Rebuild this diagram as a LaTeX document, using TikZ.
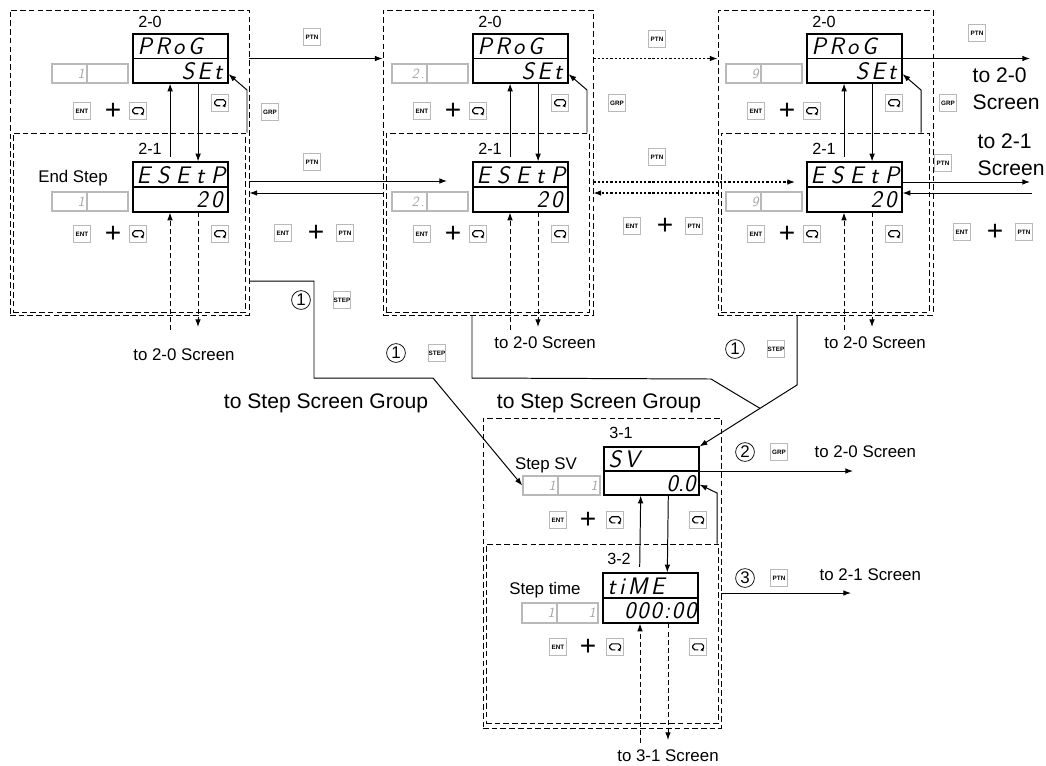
\documentclass[tikz,border=0pt]{standalone}
\usepackage{fontspec}
\setmainfont{Liberation Sans}
\newfontfamily\segfont{Latin Modern Sans}[LetterSpace=14]
\usepackage{tikz}
\usetikzlibrary{arrows.meta,positioning,calc,fit}

\begin{document}
\begin{tikzpicture}[x=0.025cm, y=-0.025cm,
  frame/.style={draw, dash pattern=on 4pt off 2.2pt, line width=0.6pt, inner sep=0pt},
  disp/.style={draw, line width=0.8pt, inner sep=0pt},
  cell/.style={draw=gray!55, line width=1pt, inner sep=0pt},
  seg/.style={font=\segfont\itshape\fontsize{17}{17}\selectfont, inner sep=1pt},
  segsm/.style={font=\segfont\itshape\fontsize{10}{10}\selectfont, text=gray!70, inner sep=2pt},
  key/.style={draw=gray!55, line width=0.9pt, minimum size=0.44cm, inner sep=0pt,
    font=\fontsize{4.5}{5}\selectfont\bfseries},
  rot/.style={key, path picture={\draw[black, line width=0.8pt, rounded corners=1.4pt,
    -{Latex[length=1.8pt,width=2.6pt]}]
    ([shift={(0.01cm,-0.07cm)}]path picture bounding box.center) -- ++(-0.14cm,0cm)
    -- ++(0cm,0.15cm) -- ++(0.27cm,0cm) -- ++(0cm,-0.15cm) -- ++(-0.07cm,0cm);}},
  plus/.style={font=\fontsize{20}{20}\selectfont, inner sep=0pt},
  num/.style={circle, draw, line width=0.5pt, minimum size=0.47cm, inner sep=0pt,
    font=\fontsize{12}{12}\selectfont},
  lab/.style={font=\fontsize{11.5}{12}\selectfont, inner sep=1pt},
  txt/.style={font=\fontsize{12}{13}\selectfont, inner sep=1pt},
  big/.style={font=\fontsize{15}{19}\selectfont, inner sep=1pt},
  arr/.style={-{Latex[length=5.5pt,width=4pt]}, line width=0.7pt},
  dline/.style={dash pattern=on 3.5pt off 2.2pt, line width=0.7pt},
  dotline/.style={dash pattern=on 1.6pt off 1.4pt, line width=0.8pt}]
  \useasboundingbox (0,0) rectangle (1046,765);

  \foreach \gi/\dx/\sn/\tx/\ty/\xl/\xr in
    {1/0/1/184/355/10/249, 2/340/2./545/343/383/593, 3/674/9/875/343/718/933} {
    \node[frame, fit={(\xl,10) (\xr,315)}] (g\gi) {};
    \node[frame, fit={(\xl+3,133) (\xr-4,312)}] (i\gi) {};
    \node[lab] (h\gi) at (150+\dx,22) {2-0};
    \node[disp, fit={(133+\dx,34) (228+\dx,83)}] (p\gi) {};
    \draw[line width=0.8pt] (p\gi.west) -- (p\gi.east);
    \node[seg, anchor=west] (pu\gi) at (136+\dx,46.5) {PRoG};
    \node[seg, anchor=east] (pl\gi) at (224+\dx,71) {SEt};
    \node[cell, fit={(52+\dx,64) (87+\dx,83)}] (na\gi) {};
    \node[cell, fit={(87+\dx,64) (128+\dx,83)}] (nb\gi) {};
    \node[segsm, anchor=east] (nt\gi) at (na\gi.east) {\sn};
    \node[key] (ea\gi) at (82+\dx,111) {ENT};
    \node[plus] (sa\gi) at (113+\dx,111) {+};
    \node[rot] (ra\gi) at (138+\dx,111) {};
    \node[rot] (rb\gi) at (220+\dx,103) {};
    \node[lab] (k\gi) at (150+\dx,149) {2-1};
    \node[disp, fit={(133+\dx,162) (228+\dx,212)}] (e\gi) {};
    \draw[line width=0.8pt] (e\gi.west) -- (e\gi.east);
    \node[seg, anchor=west] (eu\gi) at (135+\dx,175)
      {\addfontfeature{LetterSpace=28}ESEtP};
    \node[seg, anchor=east] (el\gi) at (224+\dx,200) {20};
    \node[cell, fit={(52+\dx,192) (87+\dx,211)}] (ma\gi) {};
    \node[cell, fit={(87+\dx,192) (128+\dx,211)}] (mb\gi) {};
    \node[segsm, anchor=east] (mt\gi) at (ma\gi.east) {\sn};
    \node[key] (eb\gi) at (82+\dx,234) {ENT};
    \node[plus] (sb\gi) at (113+\dx,234) {+};
    \node[rot] (rc\gi) at (138+\dx,234) {};
    \node[rot] (rd\gi) at (220+\dx,234) {};
    \draw[arr] ([xshift=-0.26cm,yshift=0.12cm]e\gi.north) -- ([xshift=-0.26cm]p\gi.south);
    \draw[arr] ([xshift=0.44cm]p\gi.south) -- ([xshift=0.44cm]e\gi.north);
    \coordinate (gr\gi) at (247+\dx,90);
    \draw[arr] (gr\gi |- i\gi.north) -- (gr\gi) -- ([yshift=-0.39cm]p\gi.east);
    \coordinate (bt\gi) at (170+\dx,330);
    \draw[arr, dline] (bt\gi) -- (bt\gi |- e\gi.south);
    \coordinate (bd\gi) at (198+\dx,327);
    \draw[arr, dline] (bd\gi |- e\gi.south) -- (bd\gi);
    \node[txt] (to\gi) at (\tx,\ty) {to 2-0 Screen};
  }
  \node[txt] (es) at (73,178) {End Step};

  \foreach \gi/\xa/\ya/\xb/\yb/\xc/\yc/\xg/\yg in
    {1/312/37/312/162/283/233/270/112, 2/657/39/657/157/632/226/617/103,
     3/977/33/943/163/962/232/948/103} {
    \node[key] (ptn\gi) at (\xa,\ya) {PTN};
    \node[key] (ptm\gi) at (\xb,\yb) {PTN};
    \node[key] (xen\gi) at (\xc,\yc) {ENT};
    \node[plus] (xpl\gi) at (\xc+33,\yc) {+};
    \node[key] (xpt\gi) at (\xc+62,\yc) {PTN};
    \node[key] (grp\gi) at (\xg,\yg) {GRP};
  }

  \draw[arr] (g1.east |- p1.east) -- (g2.west |- p1.east);
  \draw[arr, dotline] (g2.east |- p2.east) -- (g3.west |- p2.east);
  \coordinate (o1) at (1030,58.5);
  \draw[arr] (p3.east) -- (o1);
  \coordinate (m1) at (447,181);
  \draw[arr] (g1.east |- m1) -- (m1);
  \coordinate (r1) at (383,193);
  \draw[arr] (r1) -- (r1 -| g1.east);
  \coordinate (m2) at (795,182);
  \draw[arr, dotline] (g2.east |- m2) -- (m2);
  \coordinate (r2) at (718,193);
  \draw[arr, dotline] (r2) -- (r2 -| g2.east);
  \coordinate (m3) at (1030,182);
  \draw[arr] (m3 -| e3.east) -- (m3);
  \coordinate (r3) at (1032,193);
  \draw[arr] (r3) -- (r3 -| e3.east);
  \node[big, align=left, anchor=west] (o20) at (971,89) {to 2-0\\Screen};
  \node[big, align=left, anchor=west] (o21) at (976,155) {to 2-1\\Screen};

  \node[frame, fit={(483,418) (721,728)}] (g4) {};
  \node[frame, fit={(486,544) (718,723)}] (i4) {};
  \node[lab] (h4) at (621,433) {3-1};
  \node[disp, fit={(604,447) (699,495)}] (sv) {};
  \draw[line width=0.8pt] (sv.west) -- (sv.east);
  \node[seg, anchor=west] (svu) at (607,459) {SV};
  \node[seg, anchor=east] (svl) at (697,484) {\addfontfeature{LetterSpace=0}0.0};
  \node[txt] (svt) at (546,465) {Step SV};
  \node[cell, fit={(523,476) (558,495)}] (sva) {};
  \node[cell, fit={(558,476) (600,495)}] (svb) {};
  \node[segsm, anchor=east] (sna) at (sva.east) {1};
  \node[segsm, anchor=east] (snb) at (svb.east) {1};
  \node[key] (ea4) at (558,520) {ENT};
  \node[plus] (sa4) at (588,520) {+};
  \node[rot] (ra4) at (615,520) {};
  \node[rot] (rb4) at (698,520) {};
  \node[lab] (k4) at (619,559) {3-2};
  \node[disp, fit={(603,573) (698,623)}] (tm) {};
  \draw[line width=0.8pt] (tm.west) -- (tm.east);
  \node[seg, anchor=west] (tmu) at (606,586) {tiME};
  \node[seg, anchor=east] (tml) at (698,611) {\addfontfeature{LetterSpace=8}000:00};
  \node[txt] (tmt) at (545,590) {Step time};
  \node[cell, fit={(522,603) (557,623)}] (tma) {};
  \node[cell, fit={(557,603) (598,623)}] (tmb) {};
  \node[segsm, anchor=east] (tna) at (tma.east) {1};
  \node[segsm, anchor=east] (tnb) at (tmb.east) {1};
  \node[key] (eb4) at (558,647) {ENT};
  \node[plus] (sb4) at (588,647) {+};
  \node[rot] (rc4) at (615,647) {};
  \node[rot] (rd4) at (698,647) {};
  \draw[arr] ([xshift=-0.27cm,yshift=0.14cm]tm.north) -- ([xshift=-0.27cm]sv.south);
  \draw[arr] ([xshift=0.42cm]sv.south) -- ([xshift=0.42cm]tm.north);
  \coordinate (gr4) at (717,493);
  \draw[arr] (gr4 |- i4.north) -- (gr4) -- ([yshift=-0.34cm]sv.east);
  \coordinate (bt4) at (640,743);
  \draw[arr, dline] (bt4) -- (bt4 |- tm.south);
  \coordinate (bd4) at (668,740);
  \draw[arr, dline] (bd4 |- tm.south) -- (bd4);
  \node[txt] (to4) at (668,756) {to 3-1 Screen};

  \node[num] (c2) at (745,452) {2};
  \node[key] (grp4) at (779,452) {GRP};
  \node[txt, anchor=west] (t20) at (813,452) {to 2-0 Screen};
  \coordinate (s2) at (853,471);
  \draw[arr] (sv.east) -- (s2);
  \node[num] (c3) at (745,578) {3};
  \node[key] (ptn4) at (779,578) {PTN};
  \node[txt, anchor=west] (t21) at (818,575) {to 2-1 Screen};
  \coordinate (s3) at (851,593);
  \draw[arr] (g4.east |- s3) -- (s3);

  \coordinate (k1) at (314,281);
  \coordinate (k2) at (314,378);
  \coordinate (k3) at (433,378);
  \draw[arr] (g1.east |- k1) -- (k1) -- (k2) -- (k3) -- (sva.west);
  \coordinate (k6) at (797,385);
  \draw[arr] (g3.south -| k6) -- (k6) -- (sv.north east);
  \coordinate (mrg) at ($(k6)!0.38!(sv.north east)$);
  \coordinate (k4) at (472,378);
  \coordinate (k5) at (711,379);
  \draw[line width=0.7pt] (g2.south -| k4) -- (k4) -- (k5) -- (mrg);
  \foreach \gi/\xc/\yc in {1/301/300, 2/396/353, 3/735/349} {
    \node[num] (c1\gi) at (\xc,\yc) {1};
    \node[key] (st\gi) at (\xc+41,\yc) {STEP};
  }
  \node[big] (sg1) at (326,403) {to Step Screen Group};
  \node[big] (sg2) at (599,403) {to Step Screen Group};
\end{tikzpicture}
\end{document}
